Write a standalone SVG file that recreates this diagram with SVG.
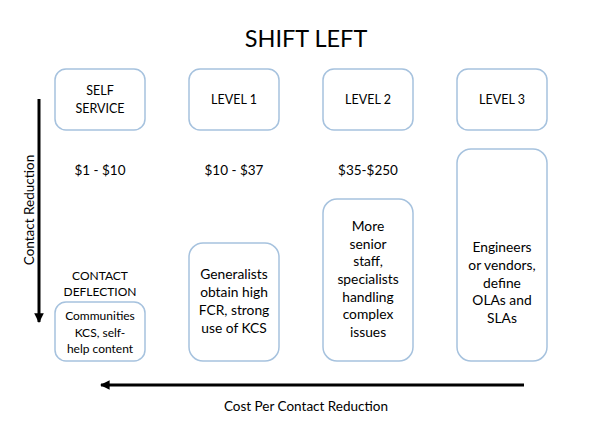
<svg xmlns="http://www.w3.org/2000/svg" width="595" height="446" viewBox="0 0 595 446">
<style>
text{font-family:Lato,"Liberation Sans",sans-serif;fill:#000;text-anchor:middle}
.box{fill:#fff;stroke:#a6c2de;stroke-width:1.5}
.hd{font-size:12.5px}
.pr{font-size:13.5px}
.bd{font-size:13.8px}
.sm{font-size:12px}
.ax{stroke:#000;stroke-width:3;fill:none}
</style>
<defs>
<marker id="ah" viewBox="0 0 10 10" refX="9" refY="5" markerWidth="3.2" markerHeight="3.2" orient="auto" markerUnits="strokeWidth">
<path d="M0,0 L10,5 L0,10 z" fill="#000"/>
</marker>
</defs>
<rect width="595" height="446" fill="#fff"/>
<text x="306" y="47" style="font-size:23.5px">SHIFT LEFT</text>

<g id="self-service">
<rect class="box" x="55" y="69" width="90" height="61" rx="11"/>
<text class="hd" x="100" y="95">SELF</text>
<text class="hd" x="100" y="113">SERVICE</text>
</g>
<g id="level1">
<rect class="box" x="189" y="69" width="90" height="61" rx="11"/>
<text class="hd" x="234" y="104">LEVEL 1</text>
</g>
<g id="level2">
<rect class="box" x="323" y="69" width="90" height="61" rx="11"/>
<text class="hd" x="368" y="104">LEVEL 2</text>
</g>
<g id="level3">
<rect class="box" x="457" y="69" width="90" height="61" rx="11"/>
<text class="hd" x="502" y="104">LEVEL 3</text>
</g>

<g id="prices">
<text class="pr" x="100" y="175">$1 - $10</text>
<text class="pr" x="234" y="175">$10 - $37</text>
<text class="pr" x="368" y="175">$35-$250</text>
<text class="pr" x="502" y="175">$100 - $500</text>
</g>

<g id="contact-deflection">
<text class="sm" x="100" y="280">CONTACT</text>
<text class="sm" x="100" y="296">DEFLECTION</text>
</g>

<g id="self-detail">
<rect class="box" x="55" y="302" width="90" height="59" rx="11"/>
<text class="sm" x="100" y="320">Communities</text>
<text class="sm" x="100" y="337">KCS, self-</text>
<text class="sm" x="100" y="353">help content</text>
</g>
<g id="level1-detail">
<rect class="box" x="189" y="243" width="90" height="118" rx="14"/>
<text class="bd" x="234" y="279">Generalists</text>
<text class="bd" x="234" y="297">obtain high</text>
<text class="bd" x="234" y="315">FCR, strong</text>
<text class="bd" x="234" y="333">use of KCS</text>
</g>
<g id="level2-detail">
<rect class="box" x="323" y="199" width="90" height="162" rx="14"/>
<text class="bd" x="368" y="231">More</text>
<text class="bd" x="368" y="249">senior</text>
<text class="bd" x="368" y="266">staff,</text>
<text class="bd" x="368" y="284">specialists</text>
<text class="bd" x="368" y="302">handling</text>
<text class="bd" x="368" y="319">complex</text>
<text class="bd" x="368" y="337">issues</text>
</g>
<g id="level3-detail">
<rect class="box" x="457" y="149" width="90" height="212" rx="14"/>
<text class="bd" x="502" y="252">Engineers</text>
<text class="bd" x="502" y="270">or vendors,</text>
<text class="bd" x="502" y="288">define</text>
<text class="bd" x="502" y="305">OLAs and</text>
<text class="bd" x="502" y="323">SLAs</text>
</g>

<g id="connectors">
<line class="ax" x1="39" y1="99" x2="39" y2="322" marker-end="url(#ah)"/>
<line class="ax" x1="524" y1="385" x2="101" y2="385" marker-end="url(#ah)"/>
</g>
<text class="pr" transform="translate(34,210) rotate(-90)">Contact Reduction</text>
<text class="pr" x="306" y="411">Cost Per Contact Reduction</text>
</svg>
